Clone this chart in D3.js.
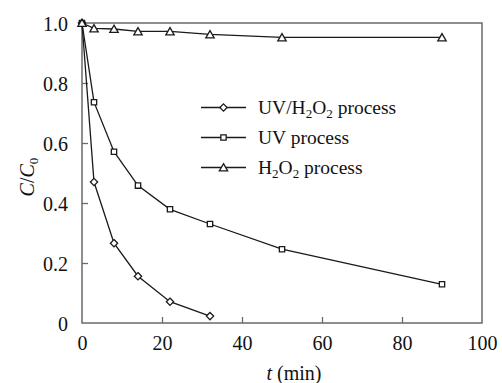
<!DOCTYPE html>
<html>
<head>
<meta charset="utf-8">
<script src="https://cdn.jsdelivr.net/npm/d3@7"></script>
<style>
  html, body { margin: 0; padding: 0; background: #fff; }
</style>
</head>
<body>
<svg id="chart" width="502" height="383" font-family="Liberation Serif"></svg>
<script>
// Reaction time (min) and relative concentration C/C0 for each process
const timeUVH2O2 = [0, 3, 8, 14, 22, 32];
const valUVH2O2  = [1.0, 0.47, 0.266, 0.156, 0.071, 0.023];
const timeUV     = [0, 3, 8, 14, 22, 32, 50, 90];
const valUV      = [1.0, 0.736, 0.571, 0.458, 0.379, 0.33, 0.246, 0.129];
const timeH2O2   = [0, 3, 8, 14, 22, 32, 50, 90];
const valH2O2    = [1.0, 0.982, 0.98, 0.972, 0.972, 0.962, 0.952, 0.952];
const xTicks = [0, 20, 40, 60, 80, 100];
const yTicks = [0, 0.2, 0.4, 0.6, 0.8, 1.0];

const FONT = "Liberation Serif";
const svg = d3.select("#chart");
const margin = { left: 82, top: 23, right: 20, bottom: 60 };
const W = 502, H = 383;
const x = d3.scaleLinear().domain([0, 100]).range([margin.left, W - margin.right]);
const y = d3.scaleLinear().domain([0, 1]).range([H - margin.bottom, margin.top]);

const axisColor = "#6a6a6a";
const lineColor = "#1a1a1a";
const textColor = "#111";

// plot frame
svg.append("rect")
  .attr("x", x(0)).attr("y", y(1))
  .attr("width", x(100) - x(0)).attr("height", y(0) - y(1))
  .attr("fill", "none").attr("stroke", axisColor).attr("stroke-width", 1.5);

// x axis: inward ticks
const xAxis = svg.append("g").attr("transform", `translate(0,${y(0)})`)
  .call(d3.axisBottom(x).tickValues(xTicks).tickSizeInner(-6).tickSizeOuter(0)
    .tickFormat(d3.format("d")).tickPadding(13));
xAxis.attr("font-family", FONT).attr("font-size", 20);
xAxis.select(".domain").remove();
xAxis.selectAll(".tick line").attr("stroke", axisColor).attr("stroke-width", 1.3)
  .filter(d => d === 0 || d === 100).remove();
xAxis.selectAll(".tick text").attr("fill", textColor);

// y axis: inward ticks
const yAxis = svg.append("g").attr("transform", `translate(${x(0)},0)`)
  .call(d3.axisLeft(y).tickValues(yTicks).tickSizeInner(-6).tickSizeOuter(0)
    .tickFormat(d => d === 0 ? "0" : d3.format(".1f")(d)).tickPadding(14));
yAxis.attr("font-family", FONT).attr("font-size", 20);
yAxis.select(".domain").remove();
yAxis.selectAll(".tick line").attr("stroke", axisColor).attr("stroke-width", 1.3)
  .filter(d => d === 0 || d === 1).remove();
yAxis.selectAll(".tick text").attr("fill", textColor).attr("dy", "0.38em");

// axis titles
const xt = svg.append("text").attr("x", 294).attr("y", 380)
  .attr("text-anchor", "middle").attr("font-size", 20).attr("font-family", FONT).attr("fill", textColor);
xt.append("tspan").attr("font-style", "italic").text("t");
xt.append("tspan").text(" (min)");

const yt = svg.append("text").attr("transform", `translate(34,177) rotate(-90)`)
  .attr("text-anchor", "middle").attr("font-size", 20).attr("font-family", FONT).attr("fill", textColor);
yt.append("tspan").attr("font-style", "italic").text("C");
yt.append("tspan").text("/");
yt.append("tspan").attr("font-style", "italic").text("C");
yt.append("tspan").attr("font-size", 13).attr("dy", 4).text("0");

// marker shapes
const markers = {
  diamond: d3.symbol().type(d3.symbolDiamond2).size(34),
  square: d3.symbol().type(d3.symbolSquare2).size(36),
  triangle: d3.symbol().type(d3.symbolTriangle2).size(50)
};

const series = [
  { t: timeUVH2O2, v: valUVH2O2, m: "diamond" },
  { t: timeUV, v: valUV, m: "square" },
  { t: timeH2O2, v: valH2O2, m: "triangle" }
];

const line = d3.line().x(d => x(d[0])).y(d => y(d[1]));

series.forEach(s => {
  const pts = s.t.map((t, i) => [t, s.v[i]]);
  svg.append("path").datum(pts).attr("d", line)
    .attr("fill", "none").attr("stroke", lineColor).attr("stroke-width", 1.3);
  svg.append("g").selectAll("path").data(pts).join("path")
    .attr("transform", d => `translate(${x(d[0])},${y(d[1]) + (s.m === "triangle" ? 1 : 0)})`)
    .attr("d", markers[s.m]())
    .attr("fill", "#fff").attr("stroke", lineColor).attr("stroke-width", 1.3);
});

// legend
const legendRows = [
  { m: "diamond", parts: [["UV/H", 0], ["2", 1], ["O", 0], ["2", 1], [" process", 0]] },
  { m: "square", parts: [["UV process", 0]] },
  { m: "triangle", parts: [["H", 0], ["2", 1], ["O", 0], ["2", 1], [" process", 0]] }
];
legendRows.forEach((r, i) => {
  const ly = 107.5 + i * 30;
  const g = svg.append("g");
  g.append("line").attr("x1", 201).attr("x2", 246).attr("y1", ly).attr("y2", ly)
    .attr("stroke", lineColor).attr("stroke-width", 1.3);
  g.append("path").attr("transform", `translate(223.5,${ly + (r.m === "triangle" ? 1 : 0)})`)
    .attr("d", markers[r.m]())
    .attr("fill", "#fff").attr("stroke", lineColor).attr("stroke-width", 1.3);
  const txt = g.append("text").attr("x", 258).attr("y", ly + 6.5)
    .attr("font-size", 19.5).attr("font-family", FONT).attr("fill", textColor);
  let sub = false;
  r.parts.forEach(([s, isSub]) => {
    const ts = txt.append("tspan").text(s);
    if (isSub) ts.attr("font-size", 13);
    if (isSub && !sub) { ts.attr("dy", 4); sub = true; }
    else if (!isSub && sub) { ts.attr("dy", -4); sub = false; }
  });
});
</script>
</body>
</html>
